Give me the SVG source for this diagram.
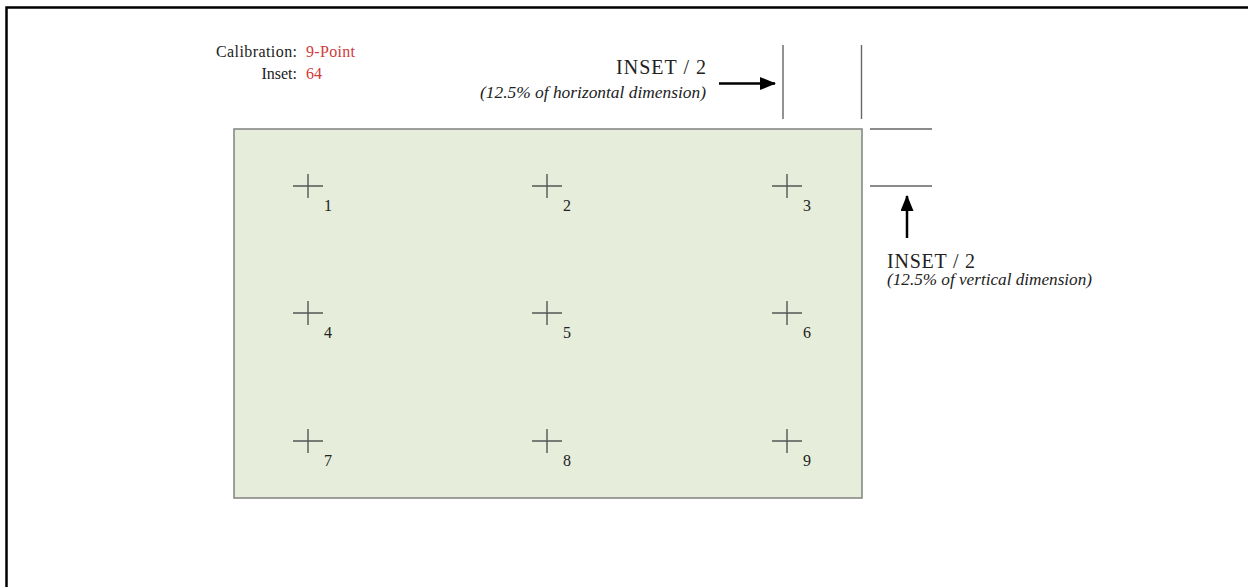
<svg xmlns="http://www.w3.org/2000/svg" width="1248" height="587" viewBox="0 0 1248 587">
<defs>
<style>
.serif{font-family:"Liberation Serif","Times New Roman",serif;}
.lbl{font-size:16px;fill:#222;}
.red{fill:#d23a3a;}
.num{font-size:16px;fill:#222;text-anchor:middle;}
.cross{stroke:#555;stroke-width:1.4;fill:none;}
.dim{stroke:#666;stroke-width:1.4;fill:none;}
.arrow{stroke:#000;stroke-width:2.5;fill:none;}
</style>
<marker id="ah" viewBox="0 0 16 13" refX="15" refY="6.5" markerWidth="16" markerHeight="13" markerUnits="userSpaceOnUse" orient="auto">
<path d="M0,0 L16,6.5 L0,13 Z" fill="#000"/>
</marker>
</defs>
<rect width="1248" height="587" fill="#fff"/>
<g id="frame">
<path d="M6.5,587 L6.5,7.5 L1248,7.5" stroke="#000" stroke-width="2.5" fill="none"/>
</g>
<g id="calibration-info" class="serif lbl">
<text x="297" y="57" text-anchor="end" textLength="81" lengthAdjust="spacing">Calibration:</text>
<text x="306" y="57" class="red" textLength="49" lengthAdjust="spacing">9-Point</text>
<text x="297" y="79" text-anchor="end">Inset:</text>
<text x="306" y="79" class="red">64</text>
</g>
<g id="plate">
<rect x="234" y="129" width="628" height="369" fill="#e6eddb" stroke="#888" stroke-width="1.6"/>
</g>
<g id="p1"><path class="cross" d="M293,186 h30 M308,174 v24"/><text class="serif num" x="328" y="211">1</text></g>
<g id="p2"><path class="cross" d="M532,186 h30 M547,174 v24"/><text class="serif num" x="567" y="211">2</text></g>
<g id="p3"><path class="cross" d="M772,186 h30 M787,174 v24"/><text class="serif num" x="807" y="211">3</text></g>
<g id="p4"><path class="cross" d="M293,313 h30 M308,301 v24"/><text class="serif num" x="328" y="338">4</text></g>
<g id="p5"><path class="cross" d="M532,313 h30 M547,301 v24"/><text class="serif num" x="567" y="338">5</text></g>
<g id="p6"><path class="cross" d="M772,313 h30 M787,301 v24"/><text class="serif num" x="807" y="338">6</text></g>
<g id="p7"><path class="cross" d="M293,441 h30 M308,429 v24"/><text class="serif num" x="328" y="466">7</text></g>
<g id="p8"><path class="cross" d="M532,441 h30 M547,429 v24"/><text class="serif num" x="567" y="466">8</text></g>
<g id="p9"><path class="cross" d="M772,441 h30 M787,429 v24"/><text class="serif num" x="807" y="466">9</text></g>
<g id="dim-horizontal">
<path class="dim" d="M783,45 V119 M861.5,45 V119"/>
<text class="serif" x="706" y="74" text-anchor="end" font-size="20" fill="#222" textLength="90" lengthAdjust="spacing">INSET / 2</text>
<text class="serif" x="706" y="98" text-anchor="end" font-size="16" font-style="italic" fill="#222" textLength="226" lengthAdjust="spacingAndGlyphs">(12.5% of horizontal dimension)</text>
</g>
<g id="dim-vertical">
<path class="dim" d="M870,129 H932 M870,186 H932"/>
<text class="serif" x="887" y="268" font-size="20" fill="#222" textLength="88" lengthAdjust="spacing">INSET / 2</text>
<text class="serif" x="887" y="285" font-size="16" font-style="italic" fill="#222" textLength="205" lengthAdjust="spacingAndGlyphs">(12.5% of vertical dimension)</text>
</g>
<g id="connectors">
<line class="arrow" x1="719" y1="83.5" x2="775" y2="83.5" marker-end="url(#ah)"/>
<line class="arrow" x1="907" y1="238" x2="907" y2="196" marker-end="url(#ah)"/>
</g>
</svg>
